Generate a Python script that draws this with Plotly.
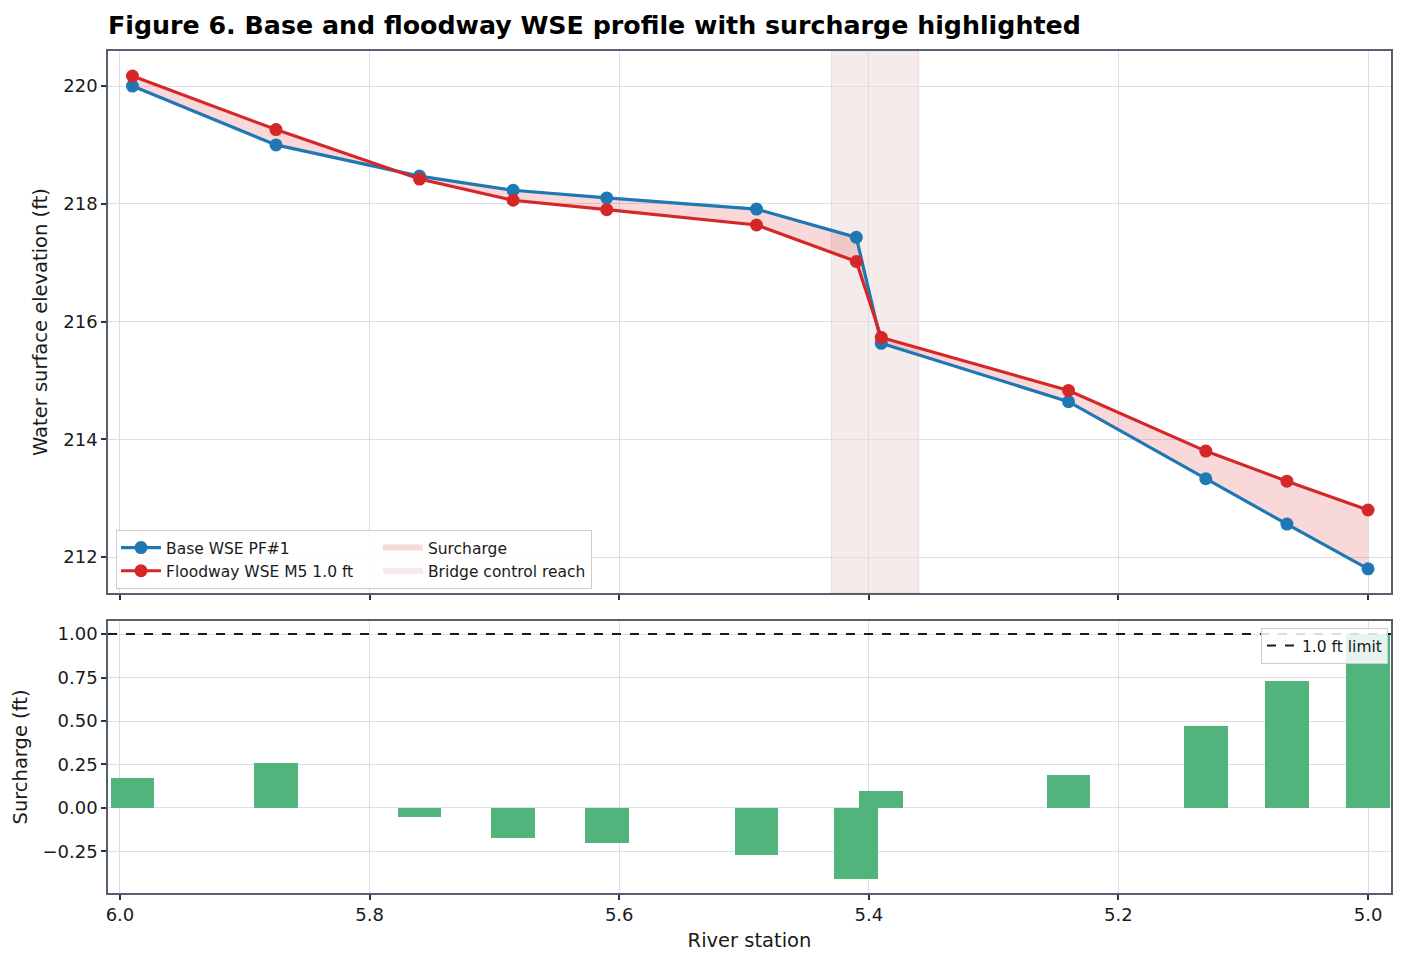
import plotly.graph_objects as go
from plotly.subplots import make_subplots

# ---- data ----
stations = [5.99, 5.875, 5.76, 5.685, 5.61, 5.49, 5.41, 5.39, 5.24, 5.13, 5.065, 5.00]
base_wse = [220.00, 219.00, 218.47, 218.23, 218.10, 217.91, 217.43, 215.63, 214.64, 213.33, 212.56, 211.80]
floodway_wse = [220.17, 219.26, 218.42, 218.06, 217.90, 217.64, 217.02, 215.73, 214.83, 213.80, 213.29, 212.80]
surcharge = [round(f - b, 3) for f, b in zip(floodway_wse, base_wse)]
bridge_reach = [5.43, 5.36]
surcharge_limit = 1.0
x_ticks = [6.0, 5.8, 5.6, 5.4, 5.2, 5.0]

FONT = "DejaVu Sans"
FRAME = "#56606e"
GRID = "#dcdee6"
BLUE = "#1f77b4"
RED = "#d62728"
GREEN = "rgb(82,180,125)"
TICK_SIZE = 18
LABEL_SIZE = 19.5
PAD = "\u00a0" * 4

W, H = 1406, 965
ml, mr, mt, mb = 108, 15, 51, 72
ph = H - mt - mb

def fy(py):
    return (H - mb - py) / ph

fig = make_subplots(rows=2, cols=1, shared_xaxes=False, vertical_spacing=0.0)

# surcharge fill between curves
fig.add_trace(go.Scatter(x=stations, y=base_wse, mode="lines", line=dict(width=0, color=RED),
                         showlegend=False, hoverinfo="skip"), row=1, col=1)
fig.add_trace(go.Scatter(x=stations, y=floodway_wse, mode="none", fill="tonexty",
                         fillcolor="rgba(214,39,40,0.18)",
                         name="Surcharge", legendgroup="b", legendrank=3), row=1, col=1)
fig.add_trace(go.Scatter(x=stations, y=base_wse, mode="lines+markers", name="Base WSE PF#1",
                         line=dict(color=BLUE, width=3.2), marker=dict(size=13, color=BLUE),
                         legendgroup="a", legendrank=1), row=1, col=1)
fig.add_trace(go.Scatter(x=stations, y=floodway_wse, mode="lines+markers", name="Floodway WSE M5 1.0 ft" + PAD,
                         line=dict(color=RED, width=3.2), marker=dict(size=13, color=RED),
                         legendgroup="a", legendrank=2), row=1, col=1)

# surcharge bars
fig.add_trace(go.Bar(x=stations, y=surcharge, width=0.035, marker=dict(color=GREEN, line=dict(width=0)),
                     showlegend=False), row=2, col=1)

# bridge reach (legend entry via a dummy fill trace)
fig.add_shape(type="rect", xref="x", yref="y domain", x0=bridge_reach[0], x1=bridge_reach[1], y0=0, y1=1,
              fillcolor="rgba(150,30,30,0.09)", line=dict(color="rgba(178,34,34,0.12)", width=1),
              layer="below")
fig.add_trace(go.Scatter(x=[None], y=[None], mode="none", fill="toself",
                         fillcolor="rgba(150,30,30,0.09)",
                         name="Bridge control reach", legendgroup="b", legendrank=4), row=1, col=1)

# limit line
fig.add_shape(type="line", xref="x2 domain", yref="y2", x0=0, x1=1, y0=surcharge_limit, y1=surcharge_limit,
              line=dict(color="#1a1a2e", width=2, dash="dash"), layer="above",
              showlegend=True, name="1.0 ft limit", legend="legend2")

axis_common = dict(showline=True, mirror=True, linecolor=FRAME, linewidth=1.5,
                   showgrid=True, gridcolor=GRID, gridwidth=1, zeroline=False,
                   ticks="outside", ticklen=5, tickwidth=1.5, tickcolor="#333333",
                   tickfont=dict(family=FONT, size=TICK_SIZE, color="#1a1a1a"))

xr = [6.0096, 4.9816]
fig.update_xaxes(**axis_common, range=xr, tickvals=x_ticks, row=1, col=1, showticklabels=False)
fig.update_xaxes(**axis_common, range=xr, tickvals=x_ticks, ticktext=[f"{v:.1f}" for v in x_ticks],
                 row=2, col=1,
                 title=dict(text="River station", font=dict(family=FONT, size=LABEL_SIZE, color="#1a1a1a"), standoff=9))
fig.update_yaxes(**axis_common, range=[211.39, 220.595], tickvals=[212, 214, 216, 218, 220], row=1, col=1,
                 title=dict(text="Water surface elevation (ft)", font=dict(family=FONT, size=LABEL_SIZE, color="#1a1a1a"), standoff=10))
fig.update_yaxes(**axis_common, range=[-0.489, 1.075], tickvals=[-0.25, 0, 0.25, 0.5, 0.75, 1.0],
                 tickformat=".2f", row=2, col=1,
                 title=dict(text="Surcharge (ft)", font=dict(family=FONT, size=LABEL_SIZE, color="#1a1a1a"), standoff=10))

fig.update_layout(
    xaxis=dict(domain=[0, 1]), xaxis2=dict(domain=[0, 1]),
    yaxis=dict(domain=[fy(593), 1.0]),
    yaxis2=dict(domain=[0.0, fy(621)]),
    width=W, height=H,
    margin=dict(l=ml, r=mr, t=mt, b=mb),
    plot_bgcolor="white", paper_bgcolor="white",
    bargap=0,
    title=dict(text="<b>Figure 6. Base and floodway WSE profile with surcharge highlighted</b>",
               x=0, xref="paper", xanchor="left", y=1 - 25 / H, yref="container", yanchor="middle",
               font=dict(family=FONT, size=25.3, color="black")),
    legend=dict(orientation="h", traceorder="grouped", tracegroupgap=10,
                x=(116 - ml) / (W - ml - mr), y=fy(589), xanchor="left", yanchor="bottom",
                bgcolor="rgba(255,255,255,0.85)", bordercolor="#cccccc", borderwidth=1,
                font=dict(family=FONT, size=15.5, color="#1a1a1a"), itemwidth=40),
    legend2=dict(x=(1388 - ml) / (W - ml - mr), y=fy(628), xanchor="right", yanchor="top",
                 bgcolor="rgba(255,255,255,0.85)", bordercolor="#cccccc", borderwidth=1,
                 font=dict(family=FONT, size=15.5, color="#1a1a1a")),
    showlegend=True,
)

fig.write_html("out.html")
